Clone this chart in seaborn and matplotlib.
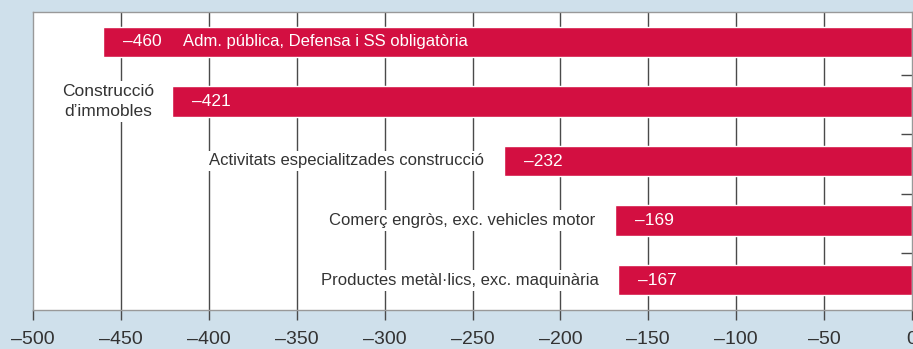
import matplotlib
matplotlib.use("Agg")
import matplotlib.pyplot as plt
import seaborn as sns
import pandas as pd

categories = [
    "Adm. pública, Defensa i SS obligatòria",
    "Construcció\nd’immobles",
    "Activitats especialitzades construcció",
    "Comerç engròs, exc. vehicles motor",
    "Productes metàl·lics, exc. maquinària",
]
values = [-460, -421, -232, -169, -167]
value_labels = ["–460", "–421", "–232", "–169", "–167"]
x_ticks = [-500, -450, -400, -350, -300, -250, -200, -150, -100, -50, 0]
x_tick_labels = ["–500", "–450", "–400", "–350", "–300", "–250", "–200", "–150", "–100", "–50", "0"]

BG = "#cfe0eb"
BAR = "#d30f41"
TEXT = "#333333"
GRID = "#4a4a4a"
SPINE = "#999999"

sns.set_theme(style="white")
plt.rcParams["font.family"] = ["Liberation Sans", "DejaVu Sans"]

df = pd.DataFrame({"sector": categories, "canvi": values})

fig = plt.figure(figsize=(9.13, 3.49), dpi=100, facecolor=BG)
ax = fig.add_axes([33 / 913, 1 - 310 / 349, 879 / 913, 298 / 349])
ax.set_facecolor("white")

sns.barplot(data=df, x="canvi", y="sector", orient="h", color=BAR,
            saturation=1, width=0.51, ax=ax, zorder=2)

ax.set_xlim(-500, 0)
ax.set_ylim(4.5, -0.5)
ax.set_xticks(x_ticks)
ax.set_xticklabels(x_tick_labels, fontsize=14, color=TEXT)
ax.set_xlabel("")
ax.set_ylabel("")
ax.set_yticks([])
ax.grid(False)
for xv in x_ticks[1:-1]:
    ax.axvline(xv, color=GRID, lw=1, zorder=1)

ax.tick_params(axis="x", length=7, width=1, color=GRID, pad=8, bottom=True)

# small inward ticks on the right edge between categories
ax.set_yticks([0.55, 1.55, 2.55, 3.55], minor=True)
ax.tick_params(axis="y", which="minor", left=False, right=True,
               direction="in", length=8, width=1, color=GRID)

for s in ax.spines.values():
    s.set_color(SPINE)
    s.set_linewidth(1)

# value labels inside the bars
px = 500 / 879  # data units per pixel
for i, (v, lab) in enumerate(zip(values, value_labels)):
    ax.text(v + 20 * px, i, lab, color="white", fontsize=12.5,
            va="center", ha="left", zorder=4)

# sector labels
ax.text(values[0] + 80 * px, 0, categories[0], color="white", fontsize=12,
        va="center", ha="left", zorder=4)
ax.text(-457, 1, categories[1], color=TEXT, fontsize=12.5, va="center",
        ha="center", multialignment="center", linespacing=1.45, zorder=4,
        bbox=dict(facecolor="white", edgecolor="none", pad=2))
for i in range(2, 5):
    ax.text(values[i] - 20 * px, i, categories[i], color=TEXT, fontsize=12,
            va="center", ha="right", zorder=4,
            bbox=dict(facecolor="white", edgecolor="none", pad=2))

fig.savefig("out.png", dpi=100, facecolor=BG)
